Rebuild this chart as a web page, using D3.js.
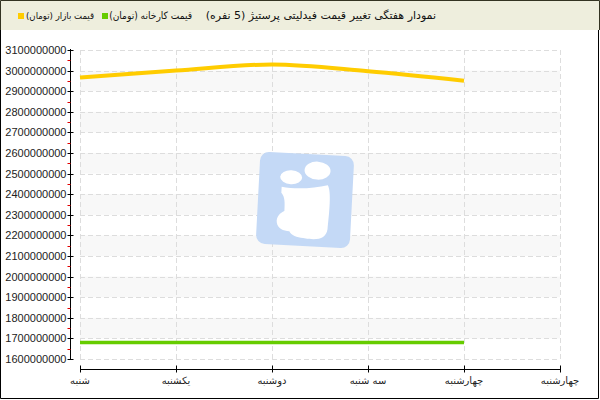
<!DOCTYPE html>
<html>
<head>
<meta charset="utf-8">
<script src="https://cdn.jsdelivr.net/npm/d3@7/dist/d3.min.js"></script>
<style>
  html, body { margin: 0; padding: 0; background: #fff; }
  svg { display: block; }
</style>
</head>
<body>
<svg id="chart" width="600" height="400"></svg>
<script>
// ---- data ----
const categories = ["شنبه", "یکشنبه", "دوشنبه", "سه شنبه", "چهارشنبه", "چهارشنبه "];
const marketPrice = [2966000000, 3000000000, 3030000000, 2997000000, 2951000000];
const factoryPrice = [1680000000, 1680000000, 1680000000, 1680000000, 1680000000];
const yTicks = [1600000000, 1700000000, 1800000000, 1900000000, 2000000000, 2100000000, 2200000000,
  2300000000, 2400000000, 2500000000, 2600000000, 2700000000, 2800000000, 2900000000, 3000000000, 3100000000];
const seriesNames = ["قیمت بازار (تومان)", "قیمت کارخانه (تومان)"];
const seriesColors = ["#ffcc00", "#66cc00"];
const title = "نمودار هفتگی تغییر قیمت فیدلیتی پرستیژ (5 نفره)";

(function () {
const svg = d3.select("#chart");
const W = 600, H = 400;
const pLeft = 80, pRight = 560, pTop = 50, pBottom = 359;

const x = d3.scalePoint().domain(categories).range([pLeft, pRight]);
const y = d3.scaleLinear().domain([1600000000, 3100000000]).range([pBottom, pTop]);

// header
svg.append("rect").attr("x", 0).attr("y", 0).attr("width", W).attr("height", 30).attr("fill", "#eeeedd");

// bands
const bandG = svg.append("g");
for (let i = 0; i < yTicks.length - 1; i++) {
  if (i % 2 === 1) {
    bandG.append("rect")
      .attr("x", pLeft).attr("width", pRight - pLeft)
      .attr("y", y(yTicks[i + 1])).attr("height", y(yTicks[i]) - y(yTicks[i + 1]))
      .attr("fill", "#f8f8f8");
  }
}

// grid
const grid = svg.append("g").attr("stroke", "#dddddd").attr("stroke-dasharray", "5,3").attr("stroke-width", 1);
yTicks.forEach(t => {
  grid.append("line").attr("x1", pLeft).attr("x2", pRight)
    .attr("y1", Math.round(y(t)) + 0.5).attr("y2", Math.round(y(t)) + 0.5);
});
categories.forEach(c => {
  grid.append("line").attr("x1", x(c) + 0.5).attr("x2", x(c) + 0.5).attr("y1", pTop).attr("y2", pBottom);
});

// watermark
const wm = svg.append("g").attr("transform", "translate(305,200) rotate(3)");
wm.append("rect").attr("x", -47).attr("y", -46).attr("width", 94).attr("height", 92)
  .attr("rx", 9).attr("fill", "#c4d9f6");
wm.append("ellipse").attr("cx", -15).attr("cy", -22).attr("rx", 11).attr("ry", 7).attr("fill", "#fff");
wm.append("ellipse").attr("cx", 11).attr("cy", -30).attr("rx", 13).attr("ry", 9).attr("fill", "#fff");
wm.append("path").attr("fill", "#fff")
  .attr("d", "M-24,-12 C-10,-10 8,-12 22,-16 C26,-10 25,10 24,28 C23,38 14,40 0,38 C-6,38 -12,36 -14,32 C-20,32 -26,30 -27,24 C-28,18 -24,14 -20,12 C-20,4 -20,-2 -24,-6 Z");

// lines
const line = d3.line().x((d, i) => x(categories[i])).y(d => y(d)).curve(d3.curveMonotoneX);
svg.append("path").datum(factoryPrice).attr("d", line).attr("fill", "none")
  .attr("stroke", seriesColors[1]).attr("stroke-width", 3.5);
svg.append("path").datum(marketPrice).attr("d", line).attr("fill", "none")
  .attr("stroke", seriesColors[0]).attr("stroke-width", 4);

// y axis
const yAxisG = svg.append("g").attr("transform", "translate(70.5,0)");
yAxisG.append("line").attr("x1", 0).attr("x2", 0).attr("y1", pTop - 1).attr("y2", pBottom + 0.5).attr("stroke", "#000");
yTicks.forEach((t, i) => {
  const yy = Math.round(y(t)) + 0.5;
  yAxisG.append("line").attr("x1", -3).attr("x2", 3).attr("y1", yy).attr("y2", yy).attr("stroke", "#000");
  yAxisG.append("text").attr("x", -4).attr("y", yy).attr("dy", "0.35em").attr("text-anchor", "end")
    .attr("font-family", "Liberation Sans, Arial, sans-serif").attr("font-size", 11).attr("fill", "#222")
    .text(String(t));
  if (i < yTicks.length - 1) {
    const ym = Math.round(y((t + yTicks[i + 1]) / 2)) + 0.5;
    yAxisG.append("line").attr("x1", -3).attr("x2", 0).attr("y1", ym).attr("y2", ym).attr("stroke", "#e00000");
  }
});

// x axis
const xAxisG = svg.append("g").attr("transform", "translate(0,369.5)");
xAxisG.append("line").attr("x1", pLeft).attr("x2", pRight + 1).attr("y1", 0).attr("y2", 0).attr("stroke", "#000");
categories.forEach(c => {
  xAxisG.append("line").attr("x1", x(c) + 0.5).attr("x2", x(c) + 0.5).attr("y1", -4).attr("y2", 3).attr("stroke", "#000");
  xAxisG.append("text").attr("x", x(c)).attr("y", 14).attr("text-anchor", "middle")
    .attr("font-family", "DejaVu Sans, sans-serif").attr("font-size", 10).attr("fill", "#222")
    .text(c.trim());
});

// header texts
const hdrFont = "DejaVu Sans, sans-serif";
svg.append("text").attr("x", 436).attr("y", 19).attr("direction", "rtl").attr("text-anchor", "start")
  .attr("font-family", hdrFont).attr("font-size", 11).attr("fill", "#111").text(title);

// legend: text right edge and the width it should occupy
const legendPos = [{sq: 18, tx: 94, w: 68}, {sq: 102, tx: 192, w: 83}];
[0, 1].forEach(i => {
  svg.append("rect").attr("x", legendPos[i].sq).attr("y", 13).attr("width", 6).attr("height", 6)
    .attr("fill", seriesColors[i]);
  const t = svg.append("text").attr("x", legendPos[i].tx).attr("y", 19).attr("direction", "rtl").attr("text-anchor", "start")
    .attr("font-family", "DejaVu Sans Condensed, DejaVu Sans, sans-serif").attr("font-size", 10).attr("fill", "#111").text(seriesNames[i]);
  const len = t.node().getComputedTextLength();
  if (len > 0) t.attr("font-size", Math.min(11, 10 * legendPos[i].w / len));
});

// frame
svg.append("path").attr("fill", "none").attr("stroke", "#333322").attr("stroke-width", 1)
  .attr("d", "M0.5,30 L0.5,0.5 L599.5,0.5 L599.5,30");
svg.append("path").attr("fill", "none").attr("stroke", "#000").attr("stroke-width", 1)
  .attr("d", "M0.5,30 L0.5,398.5 L598.5,398.5 L598.5,30");
})();
</script>
</body>
</html>
